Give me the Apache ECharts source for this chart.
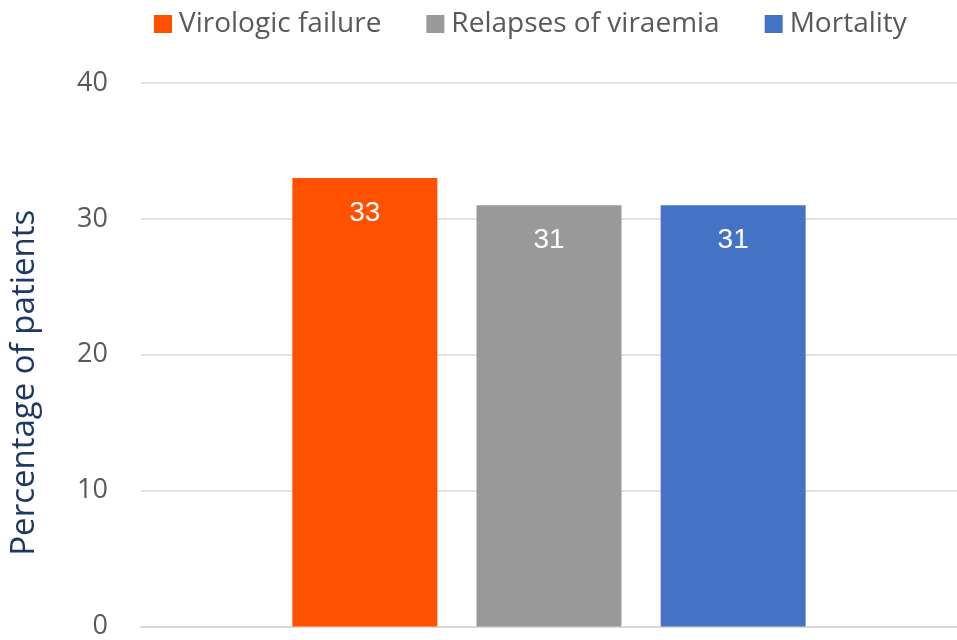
<!DOCTYPE html>
<html>
<head>
<meta charset="utf-8">
<script src="https://cdn.jsdelivr.net/npm/echarts@6/dist/echarts.min.js"></script>
<style>
  html, body { margin: 0; padding: 0; background: #fff; }
  #main { width: 957px; height: 640px; }
</style>
</head>
<body>
<div id="main"></div>
<script>
const categories = [''];
const seriesNames = ['Virologic failure', 'Relapses of viraemia', 'Mortality'];
const seriesValues = [[33], [31], [31]];
const seriesColors = ['#FF5100', '#999999', '#4472C4'];
const yTicks = [0, 10, 20, 30, 40];

const chart = echarts.init(document.getElementById('main'));

const series = seriesNames.map((name, i) => ({
  name: name,
  type: 'bar',
  data: seriesValues[i],
  barWidth: 145,
  barGap: '27%',
  itemStyle: { color: seriesColors[i] },
  label: {
    show: true,
    position: 'insideTop',
    distance: 21,
    color: '#fff',
    fontFamily: 'Liberation Sans',
    fontSize: 28
  }
}));

chart.setOption({
  animation: false,
  legend: {
    top: 5,
    left: 149,
    itemWidth: 18,
    itemHeight: 18,
    itemGap: 45,
    icon: 'rect',
    textStyle: { color: '#595959', fontSize: 28, fontFamily: 'Open Sans', padding: [0, 0, 0, 2] }
  },
  grid: { left: 140, right: 0, top: 83, bottom: 10 },
  xAxis: {
    type: 'category',
    data: categories,
    axisLine: { lineStyle: { color: '#d9d9d9', width: 2 } },
    axisTick: { show: false },
    axisLabel: { show: false }
  },
  yAxis: {
    type: 'value',
    min: yTicks[0],
    max: yTicks[yTicks.length - 1],
    interval: 10,
    name: 'Percentage of patients',
    nameLocation: 'middle',
    nameGap: 100,
    nameTextStyle: { color: '#1F3864', fontSize: 33, fontFamily: 'Open Sans', padding: [0, 0, 0, -56] },
    axisLine: { show: false },
    axisTick: { show: false },
    axisLabel: { color: '#595959', fontSize: 27, fontFamily: 'Open Sans', margin: 33 },
    splitLine: { lineStyle: { color: '#d9d9d9', width: 1.5 } }
  },
  series: series
});
</script>
</body>
</html>
